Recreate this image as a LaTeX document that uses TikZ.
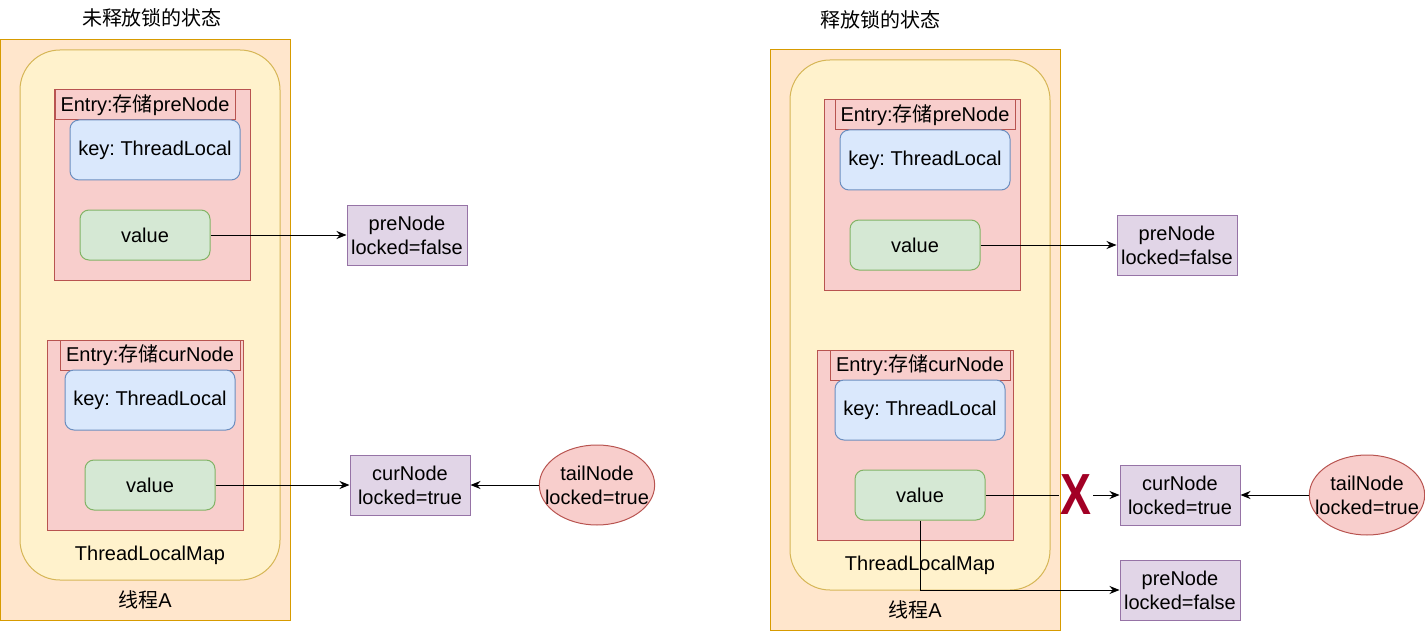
\documentclass[tikz,border=0pt]{standalone}
\usepackage{xcolor}
\usepackage{tikz}
\usetikzlibrary{arrows.meta,shapes.geometric}
\usepackage{fontspec}
\setmainfont{Liberation Sans}
\newfontfamily\cjk{Noto Sans CJK SC}
\frenchspacing
\definecolor{thrfill}{HTML}{FFE6CC}\definecolor{thrline}{HTML}{D79B00}
\definecolor{mapfill}{HTML}{FFF2CC}\definecolor{mapline}{HTML}{D6B656}
\definecolor{entfill}{HTML}{F8CECC}\definecolor{entline}{HTML}{B85450}
\definecolor{keyfill}{HTML}{DAE8FC}\definecolor{keyline}{HTML}{6C8EBF}
\definecolor{valfill}{HTML}{D5E8D4}\definecolor{valline}{HTML}{82B366}
\definecolor{lckfill}{HTML}{E1D5E7}\definecolor{lckline}{HTML}{9673A6}
\definecolor{xred}{HTML}{A20025}
\tikzset{
	box/.style={rectangle,line width=0.5pt,inner sep=0pt,align=center},
	thread/.style={box,draw=thrline,fill=thrfill,minimum width=145pt,minimum height=290pt},
	tlmap/.style={box,draw=mapline,fill=mapfill,rounded corners=20pt,minimum width=130pt,minimum height=265pt},
	entry/.style={box,draw=entline,fill=entfill,minimum width=98pt,minimum height=95pt},
	entrytitle/.style={box,draw=entline,fill=entfill,minimum width=90pt,minimum height=15pt},
	keybox/.style={box,draw=keyline,fill=keyfill,rounded corners=4.5pt,minimum width=85pt,minimum height=30pt},
	valbox/.style={box,draw=valline,fill=valfill,rounded corners=4.5pt,minimum width=65pt,minimum height=25pt},
	lockbox/.style={box,draw=lckline,fill=lckfill,minimum width=60pt,minimum height=30pt},
	tailbox/.style={ellipse,line width=0.5pt,inner xsep=-5.6pt,inner ysep=0pt,align=center,draw=entline,fill=entfill,minimum width=57pt,minimum height=40pt},
	link/.style={line width=0.5pt,-{Stealth[length=5pt,width=4pt]}}
}
\begin{document}
\begin{tikzpicture}[x=0.5pt,y=-0.5pt,font=\fontsize{10}{12}\selectfont]
	\useasboundingbox (0,0) rectangle (1425,631);

	% left: lock not released
	\node (titleL) at (152,18) {\cjk 未释放锁的状态};
	\node[thread] (thrL) at (145,330) {};
	\node[tlmap] (mapL) at (150,315) {};
	\node[entry] (entL1) at (152,185) {};
	\node[entrytitle] (entL1t) at (145,105) {Entry:{\cjk 存储}preNode};
	\node[keybox] (keyL1) at (155,150) {key: ThreadLocal};
	\node[valbox] (valL1) at (145,235) {value};
	\node[entry] (entL2) at (145.5,435) {};
	\node[entrytitle] (entL2t) at (150,355) {Entry:{\cjk 存储}curNode};
	\node[keybox] (keyL2) at (150,400) {key: ThreadLocal};
	\node[valbox] (valL2) at (150,485) {value};
	\node (mapLt) at (150,555) {ThreadLocalMap};
	\node (thrLt) at (145,600) {{\cjk 线程}A};
	\node[lockbox] (preL) at (407,235) {preNode\\locked=false};
	\node[lockbox] (curL) at (410,485) {curNode\\locked=true};
	\node[tailbox] (tailL) at (597,485) {tailNode\\locked=true};
	\draw[link] (valL1) -- (preL);
	\draw[link] (valL2) -- (curL);
	\draw[link] (tailL) -- (curL);

	% right: lock released
	\node (titleR) at (880,20) {\cjk 释放锁的状态};
	\node[thread] (thrR) at (915,340) {};
	\node[tlmap] (mapR) at (920,325) {};
	\node[entry] (entR1) at (922,195) {};
	\node[entrytitle] (entR1t) at (925,115) {Entry:{\cjk 存储}preNode};
	\node[keybox] (keyR1) at (925,160) {key: ThreadLocal};
	\node[valbox] (valR1) at (915,245) {value};
	\node[entry] (entR2) at (915,445) {};
	\node[entrytitle] (entR2t) at (920,365) {Entry:{\cjk 存储}curNode};
	\node[keybox] (keyR2) at (920,410) {key: ThreadLocal};
	\node[valbox] (valR2) at (920,495) {value};
	\node (mapRt) at (920,565) {ThreadLocalMap};
	\node (thrRt) at (915,610) {{\cjk 线程}A};
	\node[lockbox] (preR1) at (1177,245) {preNode\\locked=false};
	\node[lockbox] (curR) at (1180,495) {curNode\\locked=true};
	\node[tailbox] (tailR) at (1367,495) {tailNode\\locked=true};
	\node[lockbox] (preR2) at (1180,590) {preNode\\locked=false};
	\node[inner sep=1pt,text=xred,font=\fontsize{29}{29}\selectfont\bfseries,xscale=0.8] (xmark) at (1076,495) {X}; % cut link
	\draw[link] (valR1) -- (preR1);
	\draw[line width=0.5pt] (valR2) -- (xmark.west);
	\draw[link] (xmark.east) -- (curR);
	\draw[link] (tailR) -- (curR);
	\draw[link] (valR2.south) |- (preR2);
\end{tikzpicture}
\end{document}
